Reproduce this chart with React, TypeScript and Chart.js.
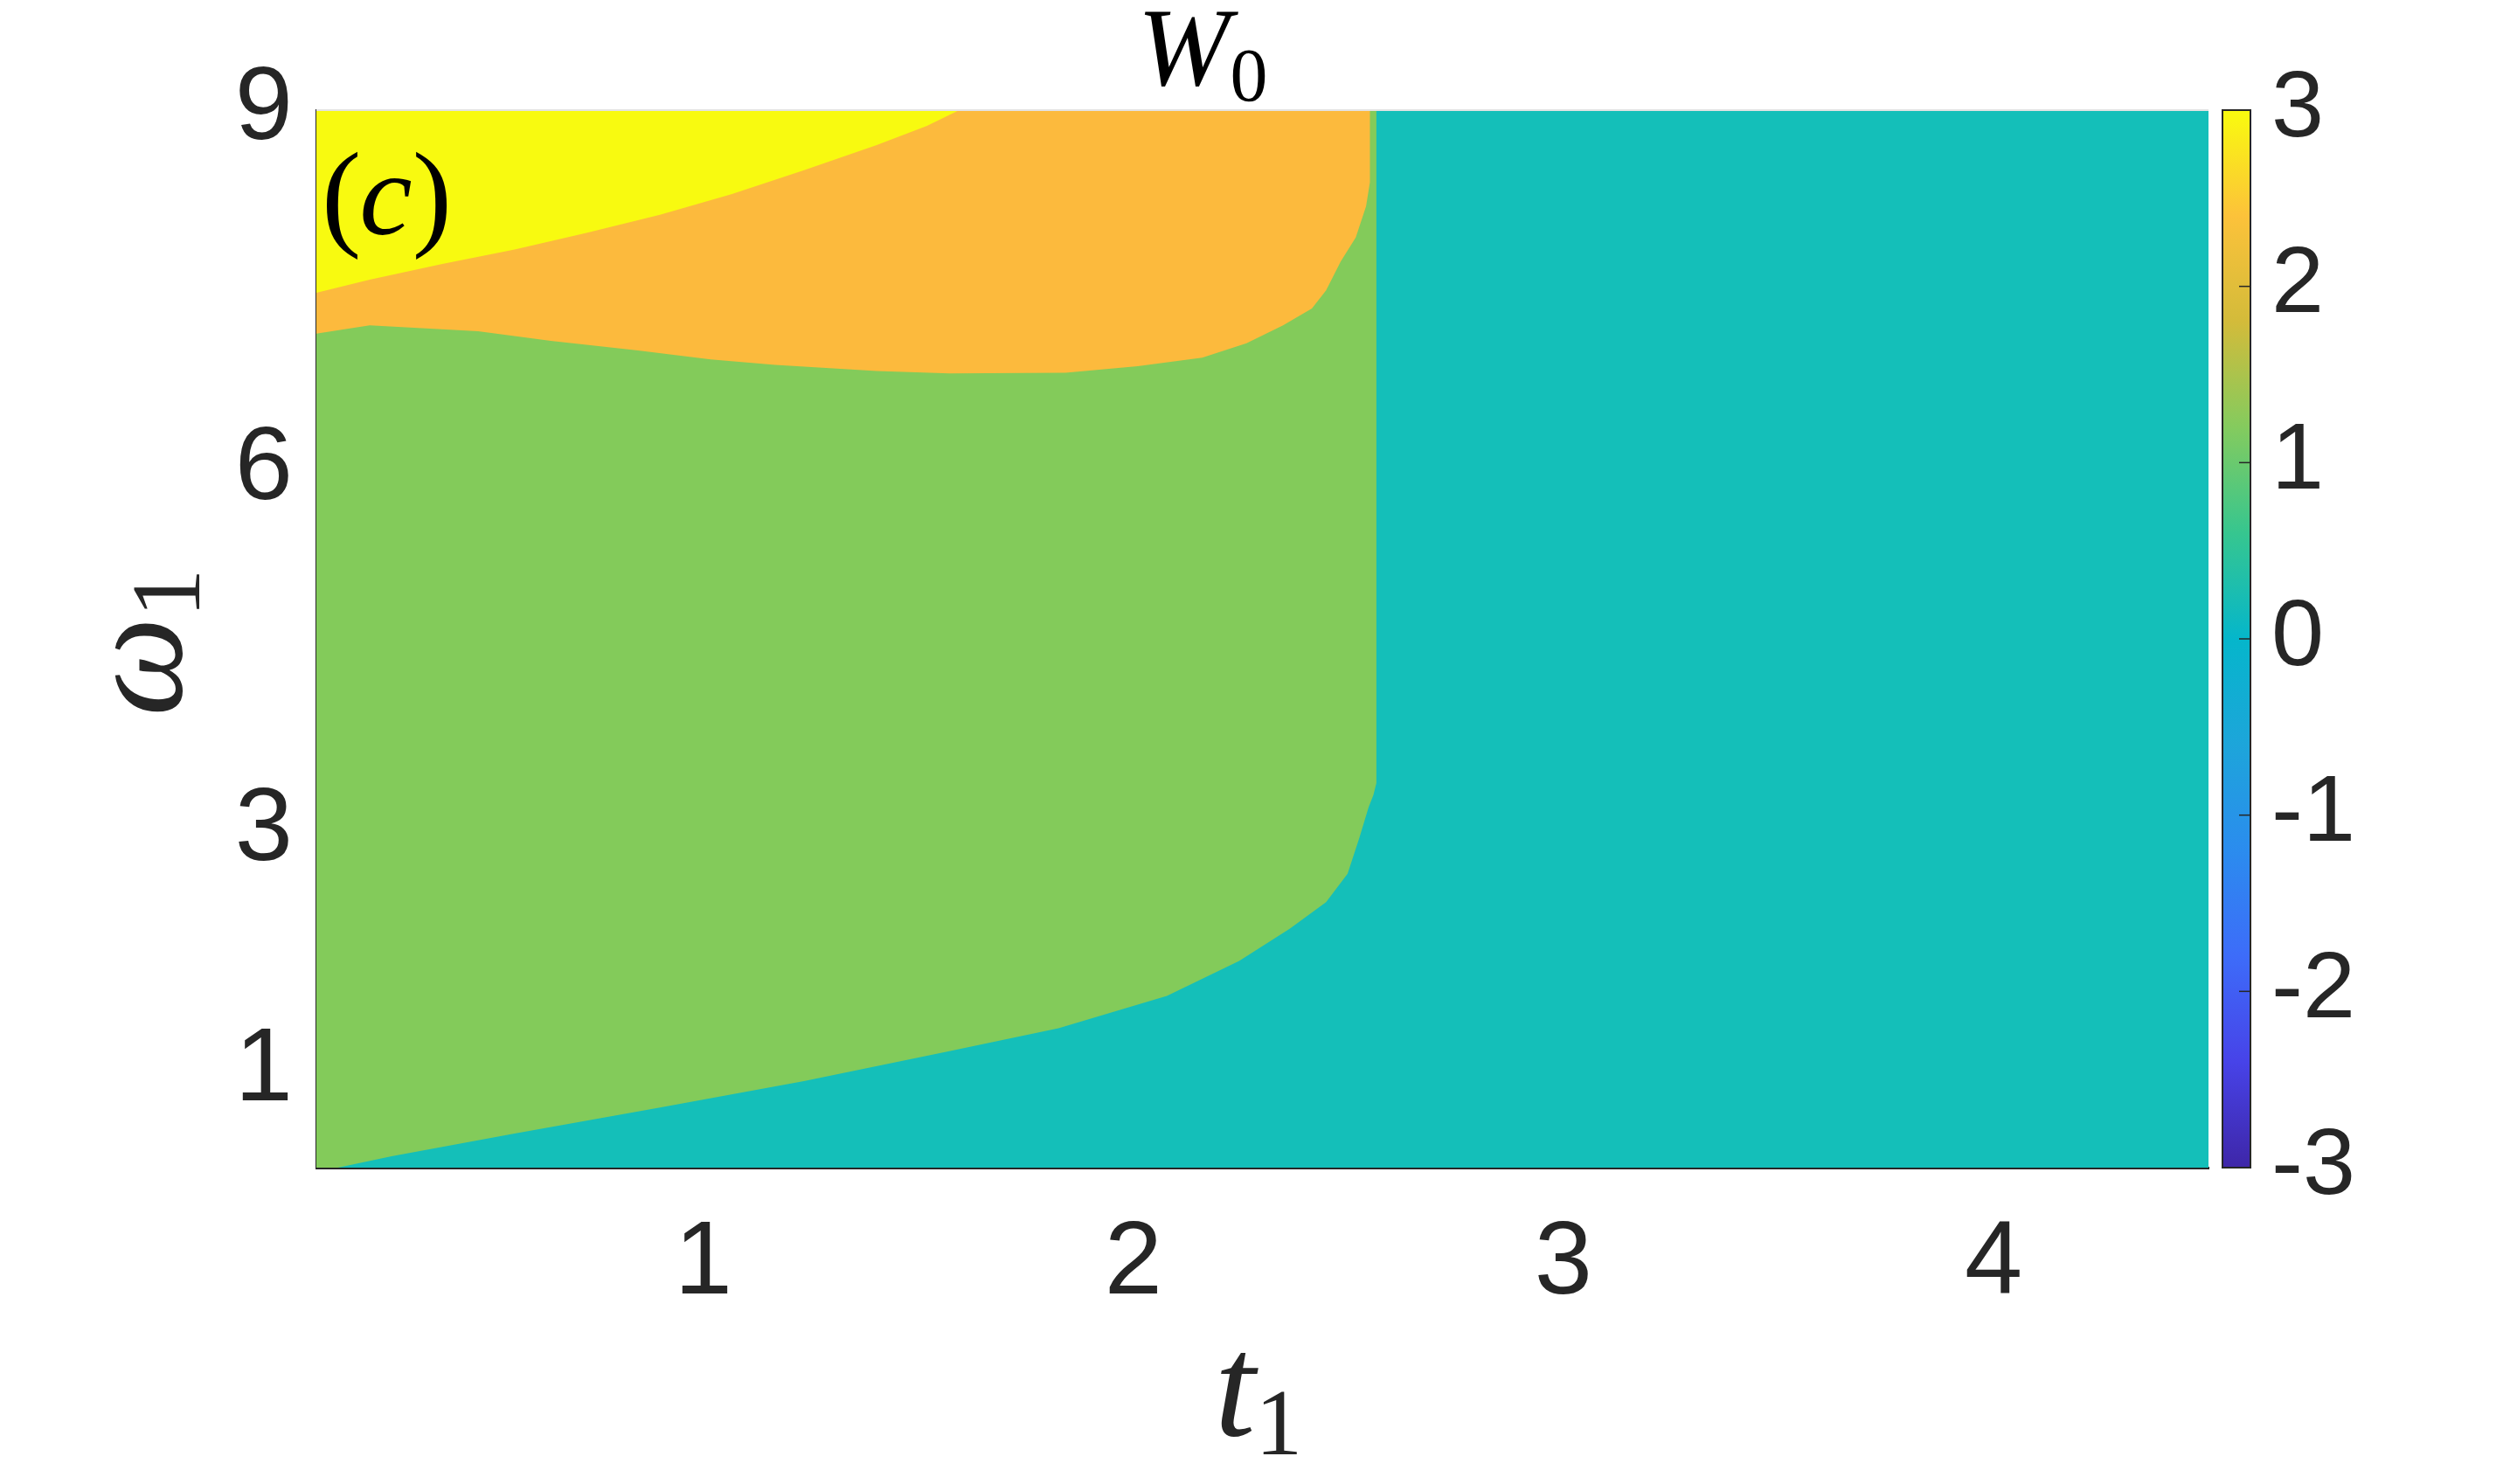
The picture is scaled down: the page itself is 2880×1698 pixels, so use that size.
import { useEffect, useRef } from "react";
import { Chart, registerables } from "chart.js";

Chart.register(...registerables);

// ---- axes ----
const tRange = [0.1, 4.5];
const omegaRange = [0.2, 9];
const tTicks = [1, 2, 3, 4];
const omegaTicks = [1, 3, 6, 9];
const colorbarRange = [-3, 3];
const colorbarTicks = [-3, -2, -1, 0, 1, 2, 3];

// ---- phases: W0 value of each region and its parula colour ----
const phaseValues = [0, 1, 2, 3];
const phaseColors = ["#14BFB9", "#83CB5A", "#FCBA3D", "#F8FA10"];

// boundary of the W0 = 1 region (lower edge, then its right edge up to the top)
const greenEdgeT = [0.1, 0.15, 0.275, 0.561, 0.899, 1.234, 1.572, 1.826, 2.078, 2.246, 2.364, 2.448, 2.498, 2.525, 2.547, 2.558, 2.565, 2.565];
const greenEdgeW = [0.2, 0.2, 0.295, 0.484, 0.7, 0.92, 1.17, 1.36, 1.63, 1.92, 2.19, 2.41, 2.645, 2.94, 3.2, 3.3, 3.4, 9];

// boundary of the W0 = 2 region
const orangeEdgeT = [0.1, 0.224, 0.476, 0.645, 0.848, 1.017, 1.167, 1.403, 1.572, 1.842, 2.01, 2.16, 2.263, 2.348, 2.415, 2.448, 2.482, 2.517, 2.541, 2.55, 2.55];
const orangeEdgeW = [7.14, 7.21, 7.16, 7.08, 7.0, 6.925, 6.88, 6.83, 6.81, 6.815, 6.87, 6.94, 7.06, 7.21, 7.35, 7.5, 7.74, 7.94, 8.2, 8.4, 9];

// boundary of the W0 = 3 region
const yellowEdgeT = [0.1, 0.224, 0.393, 0.561, 0.73, 0.899, 1.065, 1.234, 1.403, 1.52, 1.595];
const yellowEdgeW = [7.48, 7.59, 7.72, 7.84, 7.98, 8.13, 8.3, 8.5, 8.71, 8.87, 9.0];

// parula colormap stops for the colourbar
const parulaStops = ["#3E26A8", "#4743E8", "#3D6CF9", "#2B8CEE", "#1DA5DA", "#05B6CB", "#36C68F", "#84CB5E", "#D3BB3A", "#FCC23A", "#F9FB0E"];

const tickFont = '"Liberation Sans", Arial, Helvetica, sans-serif';
const mathFont = '"Liberation Serif", "DejaVu Serif", serif';
const textColor = "#262626";

function edgePolygon(ts: number[], ws: number[]) {
  const pts = ts.map((t, i) => ({ x: t, y: ws[i] }));
  pts.push({ x: tRange[0], y: omegaRange[1] });
  return pts;
}

function fullRect() {
  return [
    { x: tRange[0], y: omegaRange[0] },
    { x: tRange[1], y: omegaRange[0] },
    { x: tRange[1], y: omegaRange[1] },
    { x: tRange[0], y: omegaRange[1] },
  ];
}

function drawMath(
  ctx: CanvasRenderingContext2D,
  cx: number,
  cy: number,
  base: string,
  sub: string,
  baseSize: number,
  subSize: number,
  subShift: number,
  rotate: boolean,
  color: string
) {
  ctx.save();
  ctx.translate(cx, cy);
  if (rotate) ctx.rotate(-Math.PI / 2);
  ctx.textAlign = "left";
  ctx.textBaseline = "alphabetic";
  ctx.fillStyle = color;
  ctx.font = `italic ${baseSize}px ${mathFont}`;
  const wb = ctx.measureText(base).width;
  ctx.font = `${subSize}px ${mathFont}`;
  const ws = ctx.measureText(sub).width;
  const start = -(wb + ws) / 2;
  ctx.font = `italic ${baseSize}px ${mathFont}`;
  ctx.fillText(base, start, 0);
  ctx.font = `${subSize}px ${mathFont}`;
  ctx.fillText(sub, start + wb, subShift);
  ctx.restore();
}

const noPad = (s: any) => {
  s.paddingTop = 0;
  s.paddingBottom = 0;
  s.paddingLeft = 0;
  s.paddingRight = 0;
};

const decorPlugin = {
  id: "decor",
  afterDraw(chart: any) {
    const ctx: CanvasRenderingContext2D = chart.ctx;
    const area = chart.chartArea;
    const cb = chart.scales.cb;
    // top edge of the axes box
    ctx.save();
    ctx.strokeStyle = "#e3e3e3";
    ctx.lineWidth = 2;
    ctx.beginPath();
    ctx.moveTo(area.left, area.top);
    ctx.lineTo(area.right, area.top);
    ctx.stroke();
    ctx.restore();

    // colourbar
    const x0 = area.right + 16;
    const w = 32;
    const yTop = cb.getPixelForValue(colorbarRange[1]);
    const yBot = cb.getPixelForValue(colorbarRange[0]);
    const grad = ctx.createLinearGradient(0, yBot, 0, yTop);
    parulaStops.forEach((c, i) => grad.addColorStop(i / (parulaStops.length - 1), c));
    ctx.save();
    ctx.fillStyle = grad;
    ctx.fillRect(x0, yTop, w, yBot - yTop);
    ctx.strokeStyle = textColor;
    ctx.lineWidth = 2;
    ctx.strokeRect(x0, yTop, w, yBot - yTop);
    ctx.lineWidth = 1.5;
    colorbarTicks.forEach((v) => {
      if (v === colorbarRange[0] || v === colorbarRange[1]) return;
      const y = cb.getPixelForValue(v);
      ctx.beginPath();
      ctx.moveTo(x0 + w, y);
      ctx.lineTo(x0 + w - 13, y);
      ctx.stroke();
    });
    ctx.restore();

    // texts
    drawMath(ctx, 1376, 97, "W", "0", 127, 86, 18, false, "#000");
    drawMath(ctx, 1440, 1642, "t", "1", 168, 108, 22, false, textColor);
    drawMath(ctx, 207, 735, "\u03c9", "1", 160, 112, 21, true, textColor);

    // panel label (c)
    ctx.save();
    ctx.fillStyle = "#000";
    ctx.textBaseline = "alphabetic";
    ctx.textAlign = "left";
    let x = area.left + 6;
    const yb = 268;
    ctx.font = `136px ${mathFont}`;
    ctx.fillText("(", x, yb);
    x += ctx.measureText("(").width - 2;
    ctx.font = `italic 136px ${mathFont}`;
    ctx.fillText("c", x, yb);
    x += ctx.measureText("c").width;
    ctx.font = `136px ${mathFont}`;
    ctx.fillText(")", x, yb);
    ctx.restore();
  },
};

export default function App() {
  const canvasRef = useRef<HTMLCanvasElement | null>(null);

  useEffect(() => {
    if (!canvasRef.current) return;
    const regions = [
      { value: phaseValues[3], data: edgePolygon(yellowEdgeT, yellowEdgeW) },
      { value: phaseValues[2], data: edgePolygon(orangeEdgeT, orangeEdgeW) },
      { value: phaseValues[1], data: edgePolygon(greenEdgeT, greenEdgeW) },
      { value: phaseValues[0], data: fullRect() },
    ];
    const chart = new Chart(canvasRef.current, {
      type: "line",
      data: {
        datasets: regions.map((r) => ({
          label: `W0 = ${r.value}`,
          data: r.data,
          fill: "shape",
          backgroundColor: phaseColors[phaseValues.indexOf(r.value)],
          borderColor: phaseColors[phaseValues.indexOf(r.value)],
          borderWidth: 0,
          pointRadius: 0,
          tension: 0,
        })),
      },
      options: {
        animation: false,
        responsive: true,
        maintainAspectRatio: false,
        devicePixelRatio: 1,
        layout: { padding: { top: 126, left: 0, right: 0, bottom: 0 } },
        plugins: {
          legend: { display: false },
          tooltip: { enabled: false },
          title: { display: false },
        },
        scales: {
          x: {
            type: "linear",
            min: tRange[0],
            max: tRange[1],
            grid: { display: false, drawTicks: false },
            border: { display: true, color: textColor, width: 3 },
            afterBuildTicks: (s: any) => {
              s.ticks = tTicks.map((v) => ({ value: v }));
            },
            afterFit: (s: any) => {
              s.height = 362;
              noPad(s);
            },
            ticks: {
              callback: (v: any) => String(v),
              color: textColor,
              font: { family: tickFont, size: 119 },
              padding: 40,
              maxRotation: 0,
              autoSkip: false,
            },
          },
          y: {
            type: "linear",
            position: "left",
            min: omegaRange[0],
            max: omegaRange[1],
            grid: { display: false, drawTicks: false },
            border: { display: true, color: textColor, width: 2 },
            afterBuildTicks: (s: any) => {
              s.ticks = omegaTicks.map((v) => ({ value: v }));
            },
            afterFit: (s: any) => {
              s.width = 362;
              noPad(s);
            },
            ticks: {
              callback: (v: any) => String(v),
              color: textColor,
              font: { family: tickFont, size: 119 },
              padding: 27,
              autoSkip: false,
            },
          },
          cb: {
            type: "linear",
            position: "right",
            min: colorbarRange[0],
            max: colorbarRange[1],
            grid: { display: false, drawTicks: false },
            border: { display: false },
            afterBuildTicks: (s: any) => {
              s.ticks = colorbarTicks.map((v) => ({ value: v }));
            },
            afterFit: (s: any) => {
              s.width = 353;
              noPad(s);
            },
            ticks: {
              callback: (v: any) => String(v),
              color: textColor,
              font: { family: tickFont, size: 108 },
              padding: 72,
              autoSkip: false,
            },
          },
        },
      },
      plugins: [decorPlugin],
    } as any);
    return () => chart.destroy();
  }, []);

  return (
    <div style={{ position: "fixed", left: 0, top: 0, width: 2880, height: 1698, background: "#fff" }}>
      <canvas ref={canvasRef} />
    </div>
  );
}
